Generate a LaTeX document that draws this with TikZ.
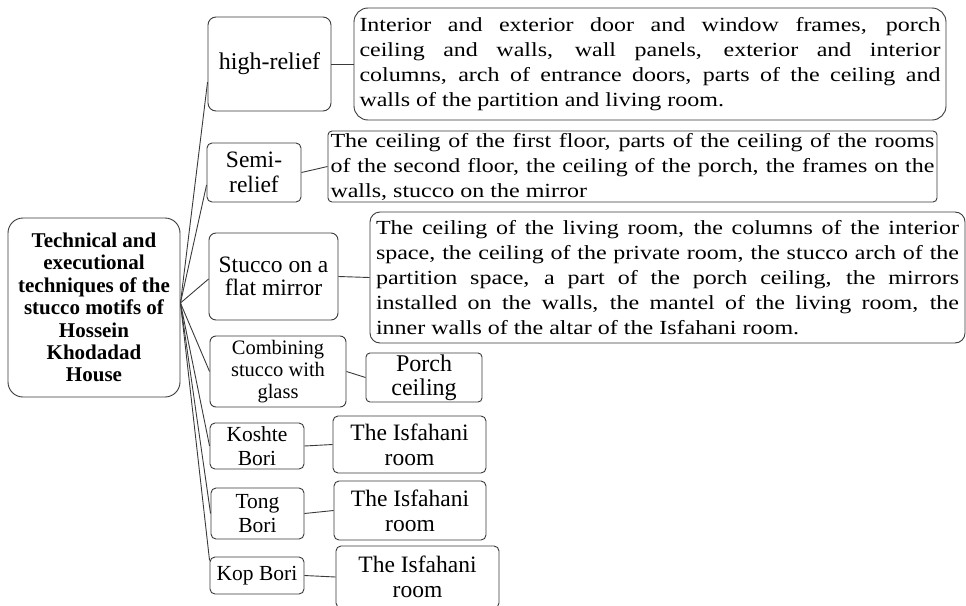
\documentclass[tikz,border=0pt]{standalone}
\usepackage{fontspec}
\setmainfont{Liberation Serif}
\newfontfamily\descf{Liberation Serif}[FakeStretch=1.2]
\usetikzlibrary{calc}
\definecolor{linec}{HTML}{3A3A3A}
\tikzset{
  box/.style={draw=linec, line width=0.9pt, fill=white, inner sep=0pt, align=center},
  descbox/.style={box, align=left, font={\descf\fontsize{20}{25}\selectfont}},
  conn/.style={draw=linec, line width=0.9pt},
}
\newcommand{\jline}[2]{\makebox[#1][s]{#2}}
\newcommand{\lline}[2]{\makebox[#1][l]{#2}}
\begin{document}
\begin{tikzpicture}[x=1pt, y=-1pt]
\useasboundingbox (0,0) rectangle (966,605);
\clip (0,0) rectangle (966,605);

% root
\node[box, rounded corners=15pt, minimum width=172pt, minimum height=179pt,
      font={\bfseries\fontsize{21}{22.4}\selectfont}] (root) at (94,307.5)
  {Technical and\\executional\\techniques of the\\stucco motifs of\\Hossein\\Khodadad\\House};

% left column
\node[box, rounded corners=8pt, minimum width=123pt, minimum height=94pt,
      font={\fontsize{24}{25}\selectfont}] (hr) at (269.5,64) {high-relief};
\node[box, rounded corners=5pt, minimum width=94pt, minimum height=59pt,
      font={\fontsize{23.5}{25}\selectfont}] (semi) at (254,172.5) {Semi-\\relief};
\node[box, rounded corners=7pt, minimum width=129pt, minimum height=87pt,
      font={\fontsize{23.5}{23}\selectfont}] (stu) at (273.5,276.5) {Stucco on a\\flat mirror};
\node[box, rounded corners=6pt, minimum width=136pt, minimum height=71pt,
      font={\fontsize{20.5}{22}\selectfont}] (comb) at (278,371.5) {Combining\\stucco with\\glass};
\node[box, rounded corners=5pt, minimum width=94pt, minimum height=46pt,
      font={\fontsize{21.5}{24}\selectfont}] (kosh) at (257,446) {Koshte\\Bori};
\node[box, rounded corners=5pt, minimum width=93pt, minimum height=51pt,
      font={\fontsize{21.5}{24}\selectfont}] (tong) at (257.5,513.5) {Tong\\Bori};
\node[box, rounded corners=5pt, minimum width=94pt, minimum height=37pt,
      font={\fontsize{21.5}{24}\selectfont}] (kop) at (257,575.5) {Kop Bori};

% right column
\node[descbox, rounded corners=14pt, minimum width=592pt, minimum height=112pt] (hrd) at (650,64)
  {\jline{581pt}{Interior and exterior door and window frames, porch}\\
   \jline{581pt}{ceiling and walls, wall panels, exterior and interior}\\
   \jline{581pt}{columns, arch of entrance doors, parts of the ceiling and}\\
   \lline{581pt}{walls of the partition and living room.}};
\node[descbox, rounded corners=4pt, minimum width=609pt, minimum height=71pt] (semid) at (632.5,166.5)
  {\jline{604pt}{The ceiling of the first floor, parts of the ceiling of the rooms}\\
   \jline{604pt}{of the second floor, the ceiling of the porch, the frames on the}\\
   \lline{604pt}{walls, stucco on the mirror}};
\node[descbox, rounded corners=10pt, minimum width=595pt, minimum height=131pt] (stud) at (667.5,277.5)
  {\jline{583pt}{The ceiling of the living room, the columns of the interior}\\
   \jline{583pt}{space, the ceiling of the private room, the stucco arch of the}\\
   \jline{583pt}{partition space, a part of the porch ceiling, the mirrors}\\
   \jline{583pt}{installed on the walls, the mantel of the living room, the}\\
   \lline{583pt}{inner walls of the altar of the Isfahani room.}};
\node[box, rounded corners=4pt, minimum width=116pt, minimum height=49pt,
      font={\fontsize{24}{24}\selectfont}] (porch) at (424,377.5) {Porch\\ceiling};
\node[box, rounded corners=5pt, minimum width=153pt, minimum height=57pt,
      font={\fontsize{23.5}{25}\selectfont}] (kr) at (409.5,444.5) {The Isfahani\\room};
\node[box, rounded corners=5pt, minimum width=152pt, minimum height=59pt,
      font={\fontsize{23.5}{25}\selectfont}] (tr) at (410,510.5) {The Isfahani\\room};
\node[box, rounded corners=5pt, minimum width=163pt, minimum height=62pt,
      font={\fontsize{23.5}{25}\selectfont}] (kopr) at (417.5,577) {The Isfahani\\room};

% connectors from root
\coordinate (o) at ($(root.east)+(0,-4.5)$);
\draw[conn] (o) -- ($(hr.west)+(0,18)$);
\draw[conn] (o) -- ($(semi.west)+(0,12.5)$);
\draw[conn] (o) -- ($(stu.west)+(0,2.5)$);
\draw[conn] (o) -- (comb.west);
\draw[conn] (o) -- (kosh.west);
\draw[conn] (o) -- (tong.west);
\draw[conn] (o) -- ($(kop.west)+(0,-15)$);

% connectors to descriptions
\draw[conn] (hr.east) -- (hrd.west);
\draw[conn] (semi.east) -- (semid.west);
\draw[conn] (stu.east) -- (stud.west);
\draw[conn] (comb.east) -- (porch.west);
\draw[conn] (kosh.east) -- (kr.west);
\draw[conn] (tong.east) -- (tr.west);
\draw[conn] (kop.east) -- (kopr.west);
\end{tikzpicture}
\end{document}
